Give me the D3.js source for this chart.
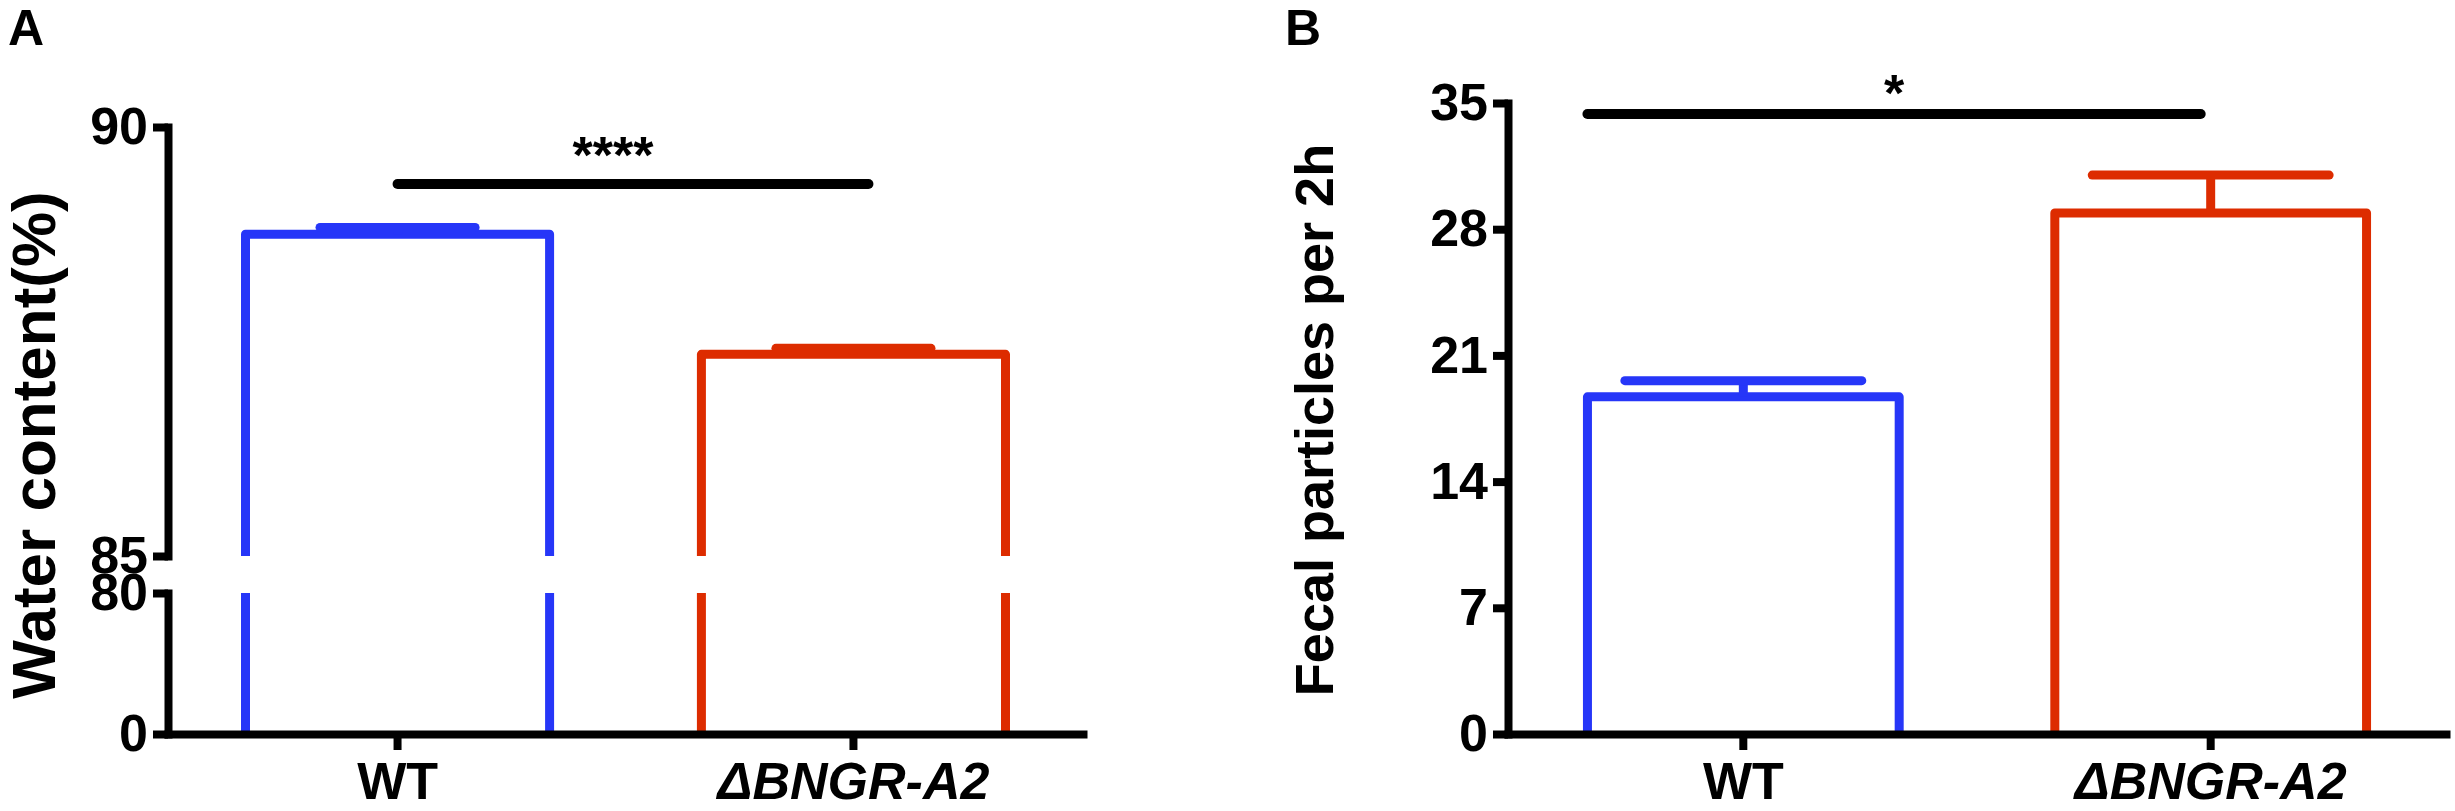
<!DOCTYPE html>
<html>
<head>
<meta charset="utf-8">
<script src="https://cdn.jsdelivr.net/npm/d3@7"></script>
<style>
  html, body { margin: 0; padding: 0; background: #fff; }
  svg { display: block; }
  text { font-family: "Liberation Sans", Arial, Helvetica, sans-serif; font-weight: bold; fill: #000; }
</style>
</head>
<body>
<svg id="chart" width="2455" height="811"></svg>
<script>
// ---------------- data ----------------
const categories = ["WT", "ΔBNGR-A2"];
const seriesColors = ["#2636f8", "#dd2c00"];

// Panel A: water content (%)
const waterMean = [88.75, 87.35];
const waterSem  = [0.08, 0.07];
const waterTicksUpper = [85, 90];
const waterTicksLower = [0, 80];

// Panel B: fecal particles per 2h
const fecalMean = [18.7, 28.9];
const fecalSem  = [0.9, 2.1];
const fecalTicks = [0, 7, 14, 21, 28, 35];

// ---------------- layout ----------------
const svg = d3.select("#chart");
const SW = 9;           // stroke width for marks
const AX = 8;           // axis stroke width
const FONT = 52;

function styleAxis(g) {
  g.select(".domain").attr("stroke", "#000").attr("stroke-width", AX).attr("stroke-linecap", "square");
  g.selectAll(".tick line").attr("stroke", "#000").attr("stroke-width", AX);
  g.selectAll(".tick text").attr("font-size", FONT).attr("font-weight", "bold")
    .attr("font-family", '"Liberation Sans", Arial, sans-serif').attr("fill", "#000");
}

// ================= Panel A =================
const A = { left: 168, right: 1083, bottom: 734, top: 127, breakHi: 556, breakLo: 593 };
const xA = d3.scaleBand().domain(categories).range([A.left, A.right]).paddingInner(0.333).paddingOuter(0.17);
const yAUp = d3.scaleLinear().domain([85, 90]).range([A.breakHi, A.top]);
const yALo = d3.scaleLinear().domain([0, 80]).range([A.bottom, A.breakLo]);

const gA = svg.append("g");

// bars with broken axis
categories.forEach((c, i) => {
  const x0 = xA(c), x1 = xA(c) + xA.bandwidth();
  const col = seriesColors[i];
  // lower segment verticals
  [x0, x1].forEach(x => {
    gA.append("line").attr("x1", x).attr("x2", x)
      .attr("y1", yALo(0)).attr("y2", yALo(80))
      .attr("stroke", col).attr("stroke-width", SW);
  });
  // upper segment outline
  const p = d3.path();
  p.moveTo(x0, yAUp(85));
  p.lineTo(x0, yAUp(waterMean[i]));
  p.lineTo(x1, yAUp(waterMean[i]));
  p.lineTo(x1, yAUp(85));
  gA.append("path").attr("d", p.toString()).attr("fill", "none")
    .attr("stroke", col).attr("stroke-width", SW).attr("stroke-linejoin", "round");
  // error bar
  const cx = xA(c) + xA.bandwidth() / 2;
  const capHalf = xA.bandwidth() * 0.255;
  gA.append("line").attr("x1", cx).attr("x2", cx)
    .attr("y1", yAUp(waterMean[i])).attr("y2", yAUp(waterMean[i] + waterSem[i]))
    .attr("stroke", col).attr("stroke-width", SW);
  gA.append("line").attr("x1", cx - capHalf).attr("x2", cx + capHalf)
    .attr("y1", yAUp(waterMean[i] + waterSem[i])).attr("y2", yAUp(waterMean[i] + waterSem[i]))
    .attr("stroke", col).attr("stroke-width", SW).attr("stroke-linecap", "round");
});

// axes A
gA.append("g").attr("transform", `translate(${A.left},0)`)
  .call(d3.axisLeft(yAUp).tickValues(waterTicksUpper).tickSize(15).tickSizeOuter(0).tickPadding(5).tickFormat(d3.format("d")))
  .call(styleAxis);
gA.append("g").attr("transform", `translate(${A.left},0)`)
  .call(d3.axisLeft(yALo).tickValues(waterTicksLower).tickSize(15).tickSizeOuter(0).tickPadding(5).tickFormat(d3.format("d")))
  .call(styleAxis);
gA.append("g").attr("transform", `translate(0,${A.bottom})`)
  .call(d3.axisBottom(xA).tickSize(16).tickSizeOuter(0).tickPadding(12))
  .call(styleAxis)
  .call(g => g.selectAll(".tick text").filter(d => d !== "WT").attr("font-style", "italic"));

// significance A
const sigA = { x1: xA(categories[0]) + xA.bandwidth() / 2, x2: xA(categories[1]) + xA.bandwidth() / 2 + 15, y: 184 };
gA.append("line").attr("x1", sigA.x1).attr("x2", sigA.x2).attr("y1", sigA.y).attr("y2", sigA.y)
  .attr("stroke", "#000").attr("stroke-width", 10).attr("stroke-linecap", "round");
gA.append("text").attr("x", 613).attr("y", 173).attr("text-anchor", "middle").attr("font-size", FONT).text("****");

// labels A
gA.append("text").attr("transform", "translate(55,445) rotate(-90)").attr("text-anchor", "middle")
  .attr("font-size", 62).text("Water content(%)");
gA.append("text").attr("x", 8).attr("y", 45).attr("font-size", 50).text("A");

// ================= Panel B =================
const B = { left: 1508, right: 2446, bottom: 734, top: 103 };
const xB = d3.scaleBand().domain(categories).range([B.left, B.right]).paddingInner(0.333).paddingOuter(0.17);
const yB = d3.scaleLinear().domain([0, 35]).range([B.bottom, B.top]);

const gB = svg.append("g");
categories.forEach((c, i) => {
  const x0 = xB(c), x1 = xB(c) + xB.bandwidth();
  const col = seriesColors[i];
  const p = d3.path();
  p.moveTo(x0, yB(0));
  p.lineTo(x0, yB(fecalMean[i]));
  p.lineTo(x1, yB(fecalMean[i]));
  p.lineTo(x1, yB(0));
  gB.append("path").attr("d", p.toString()).attr("fill", "none")
    .attr("stroke", col).attr("stroke-width", SW).attr("stroke-linejoin", "round");
  const cx = xB(c) + xB.bandwidth() / 2;
  const capHalf = xB.bandwidth() * 0.38;
  gB.append("line").attr("x1", cx).attr("x2", cx)
    .attr("y1", yB(fecalMean[i])).attr("y2", yB(fecalMean[i] + fecalSem[i]))
    .attr("stroke", col).attr("stroke-width", SW);
  gB.append("line").attr("x1", cx - capHalf).attr("x2", cx + capHalf)
    .attr("y1", yB(fecalMean[i] + fecalSem[i])).attr("y2", yB(fecalMean[i] + fecalSem[i]))
    .attr("stroke", col).attr("stroke-width", SW).attr("stroke-linecap", "round");
});

gB.append("g").attr("transform", `translate(${B.left},0)`)
  .call(d3.axisLeft(yB).tickValues(fecalTicks).tickSize(15).tickSizeOuter(0).tickPadding(5).tickFormat(d3.format("d")))
  .call(styleAxis);
gB.append("g").attr("transform", `translate(0,${B.bottom})`)
  .call(d3.axisBottom(xB).tickSize(16).tickSizeOuter(0).tickPadding(12))
  .call(styleAxis)
  .call(g => g.selectAll(".tick text").filter(d => d !== "WT").attr("font-style", "italic"));

const sigB = { x1: xB(categories[0]), x2: xB(categories[1]) + xB.bandwidth() / 2 - 10, y: 114 };
gB.append("line").attr("x1", sigB.x1).attr("x2", sigB.x2).attr("y1", sigB.y).attr("y2", sigB.y)
  .attr("stroke", "#000").attr("stroke-width", 10).attr("stroke-linecap", "round");
gB.append("text").attr("x", (sigB.x1 + sigB.x2) / 2).attr("y", 111).attr("text-anchor", "middle").attr("font-size", FONT).text("*");

gB.append("text").attr("transform", "translate(1333,420) rotate(-90)").attr("text-anchor", "middle")
  .attr("font-size", 54).text("Fecal particles per 2h");
gB.append("text").attr("x", 1285).attr("y", 45).attr("font-size", 50).text("B");
</script>
</body>
</html>
